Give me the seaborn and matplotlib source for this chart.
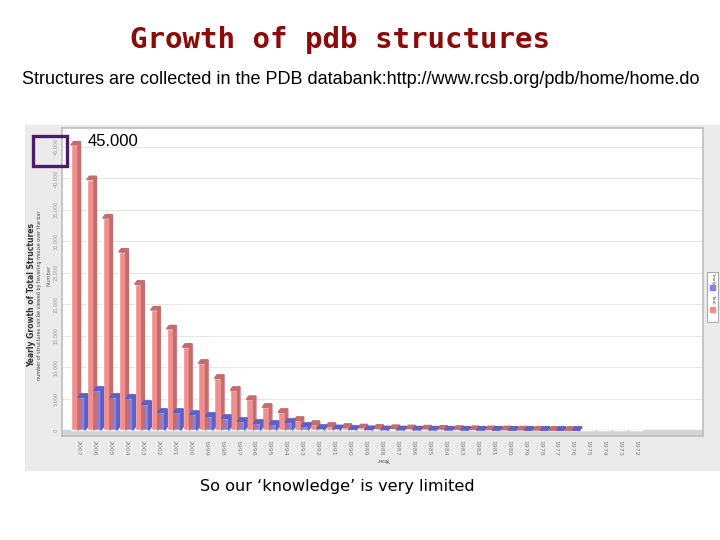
import matplotlib
matplotlib.use("Agg")
import matplotlib.pyplot as plt
import pandas as pd
import numpy as np
import seaborn as sns
from matplotlib.patches import Rectangle, Polygon

# datos
years = [str(y) for y in range(2007, 1971, -1)]
total = [45300, 39800, 33700, 28300, 23200, 19100, 16100, 13200, 10650, 8270,
         6360, 4900, 3660, 2860, 1590, 950, 640, 480, 400, 330,
         290, 250, 220, 190, 160, 130, 110, 90, 70, 50,
         30, 15, 0, 0, 0, 0]
yearly = [5250, 6360, 5250, 5100, 4130, 2860, 2860, 2540, 2230, 1900,
          1430, 1110, 950, 1270, 640, 320, 250, 170, 120, 90,
          80, 70, 60, 50, 40, 35, 30, 25, 20, 15,
          10, 8, 0, 0, 0, 0]
series = ["Total", "Yearly"]
yticks = list(range(0, 45001, 5000))

df = pd.DataFrame({"year": years * 2,
                   "value": total + yearly,
                   "serie": [series[0]] * len(years) + [series[1]] * len(years)})

front = {"Total": "#f38e8e", "Yearly": "#8282ee"}
dark = {"Total": "#c56c6c", "Yearly": "#6060c4"}

sns.set_style("white")
fig = plt.figure(figsize=(7.2, 5.4), dpi=100)

# panel gris de fondo
fig.patches.append(Rectangle((25 / 720, 1 - 470 / 540), 695 / 720, 345 / 540,
                             transform=fig.transFigure, color="#ebebeb", zorder=-5))

ax = fig.add_axes([62 / 720, 1 - 436 / 540, 641 / 720, 308 / 540])
ax.set_facecolor("white")
sns.barplot(data=df, x="year", y="value", hue="serie", hue_order=series,
            palette=front, width=0.88, saturation=1, legend=False, ax=ax, zorder=3)

# efecto 3D simple sobre cada barra
dx, dy = 0.16, 550
for p in list(ax.patches):
    h = p.get_height()
    if h <= 0:
        continue
    col = p.get_facecolor()
    key = "Total" if col[0] > 0.8 else "Yearly"
    x, w = p.get_x(), p.get_width()
    ax.add_patch(Polygon([(x, h), (x + dx, h + dy), (x + w + dx, h + dy), (x + w, h)],
                         closed=True, color=dark[key], zorder=4))
    ax.add_patch(Polygon([(x + w, 0), (x + w, h), (x + w + dx, h + dy), (x + w + dx, dy)],
                         closed=True, color=dark[key], zorder=4))

ax.axhspan(-900, 0, color="#d4d4d4", zorder=2)
ax.set_ylim(-900, 48000)
ax.set_xlim(-1.0, 39.2)
ax.set_yticks(yticks)
ax.set_yticklabels([f"{v:,}" for v in yticks], rotation=90, fontsize=3.5,
                   color="#777777", va="center")
ax.tick_params(axis="x", labelrotation=-90, labelsize=4.5, colors="#808080", length=0, pad=3)
ax.tick_params(axis="y", length=2, pad=0.5, colors="#999999")
ax.yaxis.grid(True, color="#e6e6e6", linewidth=0.8, zorder=0)
ax.set_axisbelow(True)
for s in ax.spines.values():
    s.set_color("#bdbdbd")
    s.set_linewidth(1.2)
ax.set_xlabel("")
ax.set_ylabel("")

# textos del eje (girados como en la captura)
fig.text(32 / 720, 1 - 295 / 540, "Yearly Growth of Total Structures", rotation=90,
         fontsize=5.5, fontweight="bold", color="#333333", ha="center", va="center")
fig.text(40 / 720, 1 - 295 / 540, "number of structures can be viewed by hovering mouse over the bar",
         rotation=90, fontsize=3.5, color="#444444", ha="center", va="center")
fig.text(49 / 720, 1 - 275 / 540, "Number", rotation=90, fontsize=3.8,
         color="#666666", ha="center", va="center")
fig.text(383 / 720, 1 - 460 / 540, "Year", rotation=180, fontsize=4.5,
         color="#555555", ha="center", va="center")

# leyenda pequena a la derecha
fig.patches.append(Rectangle((707 / 720, 1 - 322 / 540), 11 / 720, 50 / 540,
                             transform=fig.transFigure, facecolor="white",
                             edgecolor="#999999", linewidth=0.6, zorder=5))
fig.text(713 / 720, 1 - 278 / 540, series[1], rotation=-90, fontsize=3,
         color="#444444", ha="center", va="center", zorder=6)
fig.patches.append(Rectangle((710 / 720, 1 - 290 / 540), 5 / 720, 5 / 540,
                             transform=fig.transFigure, color=front["Yearly"], zorder=6))
fig.text(713 / 720, 1 - 299 / 540, series[0], rotation=-90, fontsize=3,
         color="#444444", ha="center", va="center", zorder=6)
fig.patches.append(Rectangle((710 / 720, 1 - 312 / 540), 5 / 720, 5 / 540,
                             transform=fig.transFigure, color=front["Total"], zorder=6))

# anotaciones de la diapositiva
fig.patches.append(Rectangle((33 / 720, 1 - 166 / 540), 34 / 720, 30 / 540,
                             transform=fig.transFigure, fill=False,
                             edgecolor="#4e1a6c", linewidth=2.4, zorder=7))
fig.text(88 / 720, 1 - 142 / 540, "45.000", fontsize=12, family="Liberation Sans",
         color="black", ha="left", va="center", zorder=7)

fig.text(340 / 720, 1 - 40 / 540, "Growth of pdb structures", fontsize=21,
         family="DejaVu Sans Mono", fontweight="bold", color="#8b0a0a",
         ha="center", va="center")
fig.text(361 / 720, 1 - 80 / 540,
         "Structures are collected in the PDB databank:http://www.rcsb.org/pdb/home/home.do",
         fontsize=13, family="Liberation Sans", color="black", ha="center", va="center")
fig.text(337 / 720, 1 - 486 / 540, "So our \u2018knowledge\u2019 is very limited",
         fontsize=11.6, family="DejaVu Sans", color="black", ha="center", va="center")

fig.savefig("out.png", dpi=100)
